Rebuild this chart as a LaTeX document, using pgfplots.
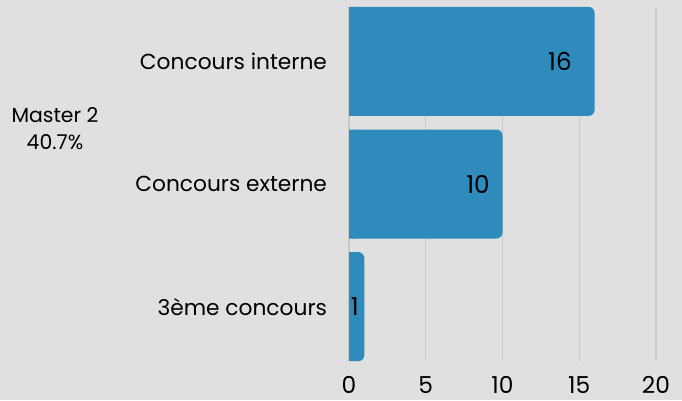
\documentclass[border=0pt]{standalone}
\usepackage{pgfplots}
\pgfplotsset{compat=1.18}
\usepackage{pgfplotstable}
\usepackage{fontspec}
\setmainfont{Poppins}
\definecolor{bg}{HTML}{DFE0DF}
\definecolor{barc}{HTML}{2E8BBB}
\definecolor{gridc}{HTML}{C8C9C8}
\pgfplotstableread{
y x shift
0 16 -17
1 10 -9.4
2 1 -4
}\datatable
\begin{document}
\begin{tikzpicture}
\fill[bg] (0,0) rectangle (511.5pt,300pt);
\node[align=center,font=\fontsize{15.3}{20}\selectfont] at (41.25pt,203.6pt) {Master 2\\40.7\%};
\begin{axis}[
  at={(261.75pt,29.25pt)}, anchor=south west,
  scale only axis, width=230.25pt, height=265.5pt,
  xbar, bar width=81.75pt, bar shift=0pt,
  xmin=0, xmax=20, ymin=-0.443, ymax=2.443,
  y dir=reverse,
  axis line style={draw=none},
  major tick length=0pt,
  xtick={0,5,10,15,20},
  xmajorgrids, grid style={gridc, line width=0.8pt},
  ytick={0,1,2},
  yticklabels={Concours interne,Concours externe,3ème concours},
  yticklabel style={font=\fontsize{16.3}{18}\selectfont, xshift=-13pt},
  xticklabel style={font=\fontsize{17.5}{19}\selectfont, yshift=-8pt},
  /pgf/number format/assume math mode=true,
  visualization depends on={\thisrow{shift} \as \myshift},
  every node near coord/.append style={anchor=east, inner sep=0pt, xshift=\myshift pt, font=\fontsize{18.5}{20}\selectfont, text=black},
  clip=false,
]
\addplot[fill=barc, draw=none] table[x expr={min(\thisrow{x},0.5)},y=y] {\datatable};
\addplot[fill=barc, draw=none, rounded corners=4.5pt, nodes near coords] table[x=x,y=y] {\datatable};
\end{axis}
\end{tikzpicture}
\end{document}
